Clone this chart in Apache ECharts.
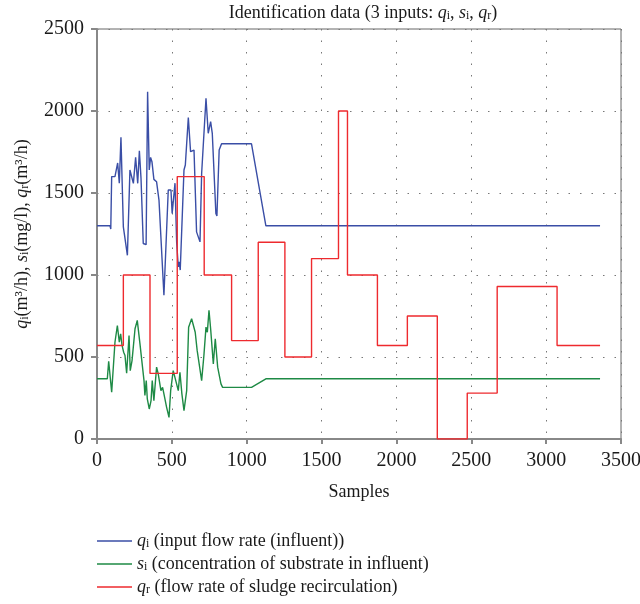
<!DOCTYPE html>
<html>
<head>
<meta charset="utf-8">
<script src="https://cdn.jsdelivr.net/npm/echarts@6/dist/echarts.min.js"></script>
<style>
  html, body { margin: 0; padding: 0; background: #fff; }
  #chart { width: 640px; height: 604px; }
</style>
</head>
<body>
<div id="chart"></div>
<script>
// q_i : input flow rate (influent)
var qiSamples = [0, 87, 92, 98, 120, 138, 149, 160, 176, 203, 208, 220, 232, 243, 258, 272, 283, 294, 300, 309, 328, 338, 349, 358, 367, 380, 398, 414, 447, 476, 494, 502, 521, 532, 543, 549, 556, 581, 590, 610, 625, 648, 665, 688, 699, 728, 743, 759, 770, 794, 801, 816, 832, 1032, 1128, 3360];
var qiValues  = [1300, 1300, 1280, 1600, 1600, 1683, 1560, 1840, 1293, 1120, 1130, 1640, 1640, 1559, 1717, 1559, 1758, 1589, 1580, 1192, 1185, 2118, 1640, 1717, 1691, 1583, 1568, 1457, 876, 1518, 1518, 1375, 1560, 1200, 1049, 1080, 1030, 1640, 1671, 1960, 1752, 1762, 1263, 1202, 1620, 2078, 1864, 1935, 1864, 1375, 1360, 1762, 1800, 1800, 1300, 1300];

// s_i : concentration of substrate in influent
var siSamples = [0, 69, 78, 98, 120, 136, 149, 158, 167, 178, 187, 198, 214, 222, 234, 254, 269, 287, 314, 320, 329, 336, 349, 361, 369, 380, 398, 409, 427, 438, 447, 465, 481, 492, 509, 543, 554, 567, 581, 599, 612, 632, 656, 669, 680, 699, 714, 728, 737, 748, 759, 777, 790, 806, 828, 839, 1032, 1128, 3360];
var siValues  = [367, 367, 474, 285, 590, 692, 590, 641, 572, 529, 509, 401, 631, 417, 478, 672, 723, 580, 356, 265, 356, 244, 183, 234, 356, 234, 438, 397, 295, 315, 275, 193, 132, 295, 417, 295, 407, 275, 173, 295, 682, 733, 651, 540, 550, 356, 509, 682, 651, 784, 672, 458, 611, 438, 336, 315, 315, 367, 367];

// q_r : flow rate of sludge recirculation (piecewise constant)
var qrEdges  = [0, 176, 354, 536, 716, 899, 1077, 1255, 1433, 1613, 1673, 1873, 2073, 2273, 2473, 2673, 3073, 3360];
var qrLevels = [570, 1000, 400, 1600, 1000, 600, 1200, 500, 1100, 2000, 1000, 570, 750, 0, 280, 930, 570];

var xTicks = { min: 0, max: 3500, interval: 500 };
var yTicks = { min: 0, max: 2500, interval: 500 };

var FONT = 'Liberation Serif';
var TXT = '#1a1a1a';

function zip(xs, ys) {
  return xs.map(function (x, i) { return [x, ys[i]]; });
}

var qrData = qrEdges.map(function (x, i) {
  return [x, i < qrLevels.length ? qrLevels[i] : qrLevels[qrLevels.length - 1]];
});

function richStyles(size) {
  return {
    it: { fontFamily: FONT, fontStyle: 'italic', fontSize: size, color: TXT },
    sub: { fontFamily: FONT, fontSize: Math.round(size * 0.65), color: TXT, verticalAlign: 'bottom', lineHeight: 10 }
  };
}

var legendLabels = {
  qi: '{it|q}{sub|i} (input flow rate (influent))',
  si: '{it|s}{sub|i} (concentration of substrate in influent)',
  qr: '{it|q}{sub|r} (flow rate of sludge recirculation)'
};

var plainNum = function (v) { return String(v); };

var chart = echarts.init(document.getElementById('chart'));

var option = {
  animation: false,
  backgroundColor: '#fff',
  title: {
    text: 'Identification data (3 inputs: {it|q}{sub|i}, {it|s}{sub|i}, {it|q}{sub|r})',
    left: 363,
    top: 4,
    padding: 0,
    textAlign: 'center',
    textStyle: {
      fontFamily: FONT, fontSize: 18, fontWeight: 'normal', color: TXT,
      rich: richStyles(18)
    }
  },
  legend: {
    orient: 'vertical',
    left: 97,
    top: 532,
    padding: 0,
    icon: 'rect',
    itemWidth: 35,
    itemHeight: 1.5,
    itemGap: 5,
    data: ['qi', 'si', 'qr'],
    formatter: function (name) { return legendLabels[name]; },
    textStyle: {
      fontFamily: FONT, fontSize: 18, color: TXT, lineHeight: 18,
      rich: richStyles(18)
    }
  },
  grid: {
    left: 97,
    right: 19,
    top: 29,
    bottom: 165,
    outerBoundsMode: 'none',
    containLabel: false,
    show: true,
    borderColor: '#666',
    borderWidth: 1
  },
  xAxis: {
    type: 'value',
    min: xTicks.min,
    max: xTicks.max,
    interval: xTicks.interval,
    name: 'Samples',
    nameLocation: 'middle',
    nameGap: 44,
    nameTextStyle: { fontFamily: FONT, fontSize: 18, color: TXT },
    axisLine: { lineStyle: { color: '#888', width: 2 } },
    axisTick: { show: true, inside: false, length: 5, lineStyle: { color: '#888', width: 2 } },
    axisLabel: { fontFamily: FONT, fontSize: 20, color: TXT, margin: 12, formatter: plainNum },
    splitLine: { show: true, lineStyle: { color: '#777', width: 1, type: [1.5, 10] } }
  },
  yAxis: {
    type: 'value',
    min: yTicks.min,
    max: yTicks.max,
    interval: yTicks.interval,
    name: '{it|q}{sub|i}(m³/h), {it|s}{sub|i}(mg/l), {it|q}{sub|r}(m³/h)',
    nameLocation: 'middle',
    nameRotate: 90,
    nameGap: 66,
    nameTextStyle: { fontFamily: FONT, fontSize: 18, color: TXT, rich: richStyles(18) },
    axisLine: { show: true, lineStyle: { color: '#888', width: 2 } },
    axisTick: { show: true, inside: false, length: 6, lineStyle: { color: '#888', width: 2 } },
    axisLabel: { fontFamily: FONT, fontSize: 20, color: TXT, margin: 13, formatter: plainNum },
    splitLine: { show: true, lineStyle: { color: '#777', width: 1, type: [1.5, 10] } }
  },
  series: [
    {
      name: 'qi',
      type: 'line',
      symbol: 'none',
      data: zip(qiSamples, qiValues),
      lineStyle: { color: '#3a4ea6', width: 1.4 },
      itemStyle: { color: '#3a4ea6' },
      z: 3
    },
    {
      name: 'si',
      type: 'line',
      symbol: 'none',
      data: zip(siSamples, siValues),
      lineStyle: { color: '#1e8a45', width: 1.4 },
      itemStyle: { color: '#1e8a45' },
      z: 2
    },
    {
      name: 'qr',
      type: 'line',
      symbol: 'none',
      step: 'end',
      data: qrData,
      lineStyle: { color: '#ee2a2e', width: 1.4 },
      itemStyle: { color: '#ee2a2e' },
      z: 4
    }
  ]
};

chart.setOption(option);
</script>
</body>
</html>
